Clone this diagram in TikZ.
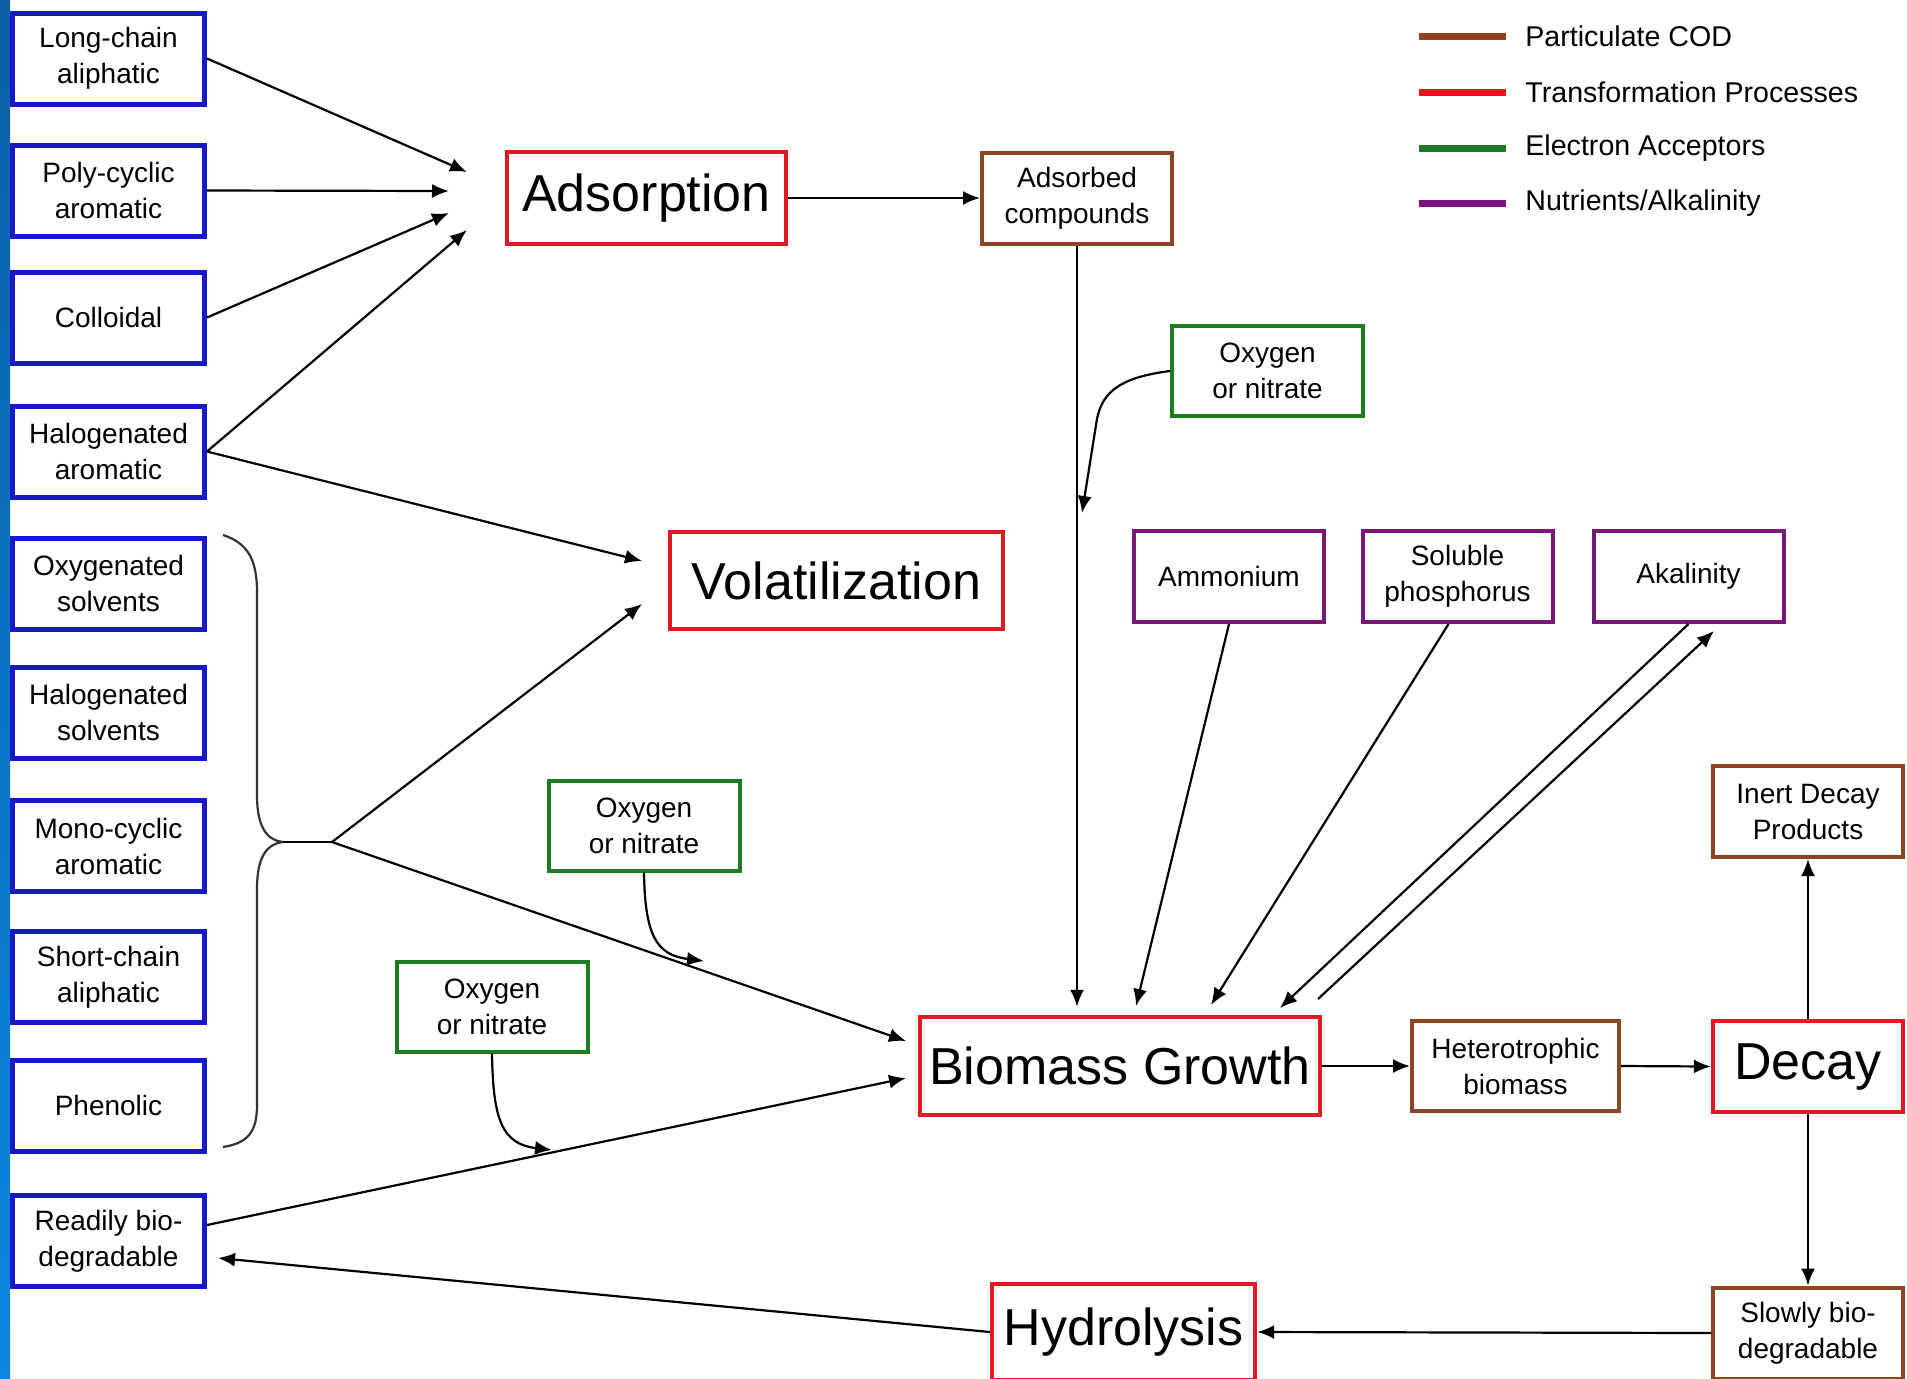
\documentclass[tikz,border=0pt]{standalone}
\usepackage{fontspec}
\setmainfont{Liberation Sans}
\usetikzlibrary{arrows.meta,calc}
\definecolor{bxblue}{RGB}{24,24,200}
\definecolor{bxred}{RGB}{225,25,35}
\definecolor{bxbrown}{RGB}{140,70,35}
\definecolor{bxgreen}{RGB}{30,125,35}
\definecolor{bxpurple}{RGB}{120,25,120}
\definecolor{lgbrown}{RGB}{150,65,25}
\definecolor{lgred}{RGB}{230,20,20}
\definecolor{lggreen}{RGB}{25,120,35}
\definecolor{lgpurple}{RGB}{125,15,125}
\definecolor{bartop}{RGB}{10,95,165}
\definecolor{barbot}{RGB}{10,135,225}
\begin{document}
\begin{tikzpicture}[x=0.5pt,y=-0.5pt,
  base/.style={rectangle,fill=white,align=center,inner sep=0pt,font=\fontsize{14}{18}\selectfont},
  srcbox/.style={base,draw=bxblue,line width=2.5pt,minimum width=96pt,minimum height=45.5pt},
  procbox/.style={base,draw=bxred,line width=2.2pt,font=\fontsize{26}{30}\selectfont},
  codbox/.style={base,draw=bxbrown,line width=2pt,minimum width=95pt,minimum height=45.5pt},
  eabox/.style={base,draw=bxgreen,line width=2pt,minimum width=95.5pt,minimum height=45pt},
  nutbox/.style={base,draw=bxpurple,line width=2pt,minimum width=95pt,minimum height=45.5pt},
  conn/.style={line width=1.1pt,draw=black},
  arr/.style={conn,-{Latex[length=8.5pt,width=7pt]}},
  lgline/.style={line width=3.5pt},
  lgtext/.style={anchor=west,inner sep=0pt,font=\fontsize{14.3}{18}\selectfont},
]
\useasboundingbox (0,0) rectangle (1907,1378);
\fill[white] (0,0) rectangle (1907,1378);
\shade[top color=bartop,bottom color=barbot] (0,0) rectangle (10,1378);

% legend
\draw[lgline,lgbrown] (1419,36) -- (1506,36);
\node[lgtext] (lg1) at (1525,36) {Particulate COD};
\draw[lgline,lgred] (1419,92) -- (1506,92);
\node[lgtext] (lg2) at (1525,92) {Transformation Processes};
\draw[lgline,lggreen] (1419,148) -- (1506,148);
\node[lgtext] (lg3) at (1525,148) {Electron Acceptors};
\draw[lgline,lgpurple] (1419,203) -- (1506,203);
\node[lgtext] (lg4) at (1525,203) {Nutrients/Alkalinity};

% source boxes
\node[srcbox] (LC)  at (108.5,58.5)  {Long-chain\\aliphatic};
\node[srcbox] (PC)  at (108.5,190.5) {Poly-cyclic\\aromatic};
\node[srcbox] (Col) at (108.5,317.5) {Colloidal};
\node[srcbox] (HA)  at (108.5,451.5) {Halogenated\\aromatic};
\node[srcbox] (OS)  at (108.5,583.5) {Oxygenated\\solvents};
\node[srcbox] (HS)  at (108.5,712.5) {Halogenated\\solvents};
\node[srcbox] (MC)  at (108.5,846)   {Mono-cyclic\\aromatic};
\node[srcbox] (SC)  at (108.5,977)   {Short-chain\\aliphatic};
\node[srcbox] (Ph)  at (108.5,1105.5){Phenolic};
\node[srcbox] (RB)  at (108.5,1241)  {Readily bio-\\degradable};

% processes
\node[procbox,minimum width=139.5pt,minimum height=46pt] (Ads) at (646.5,198) {Adsorption};
\node[procbox,minimum width=166.5pt,minimum height=48.5pt] (Vol) at (836.5,580.5) {Volatilization};
\node[procbox,minimum width=200pt,minimum height=49pt] (BG) at (1120,1066) {Biomass Growth};
\node[procbox,minimum width=95pt,minimum height=45.5pt] (Dec) at (1808,1066.5) {Decay};
\node[procbox,minimum width=131.5pt,minimum height=48pt] (HY) at (1123.5,1332) {Hydrolysis};

% particulate COD
\node[codbox] (AC)  at (1077,198)    {Adsorbed\\compounds};
\node[codbox,minimum width=103.5pt,minimum height=45pt] (Het) at (1515.5,1066) {Heterotrophic\\biomass};
\node[codbox] (Ine) at (1808,811.5)  {Inert Decay\\Products};
\node[codbox] (SB)  at (1808,1333)   {Slowly bio-\\degradable};

% electron acceptors
\node[eabox] (OT) at (1267.5,371)  {Oxygen\\or nitrate};
\node[eabox] (OM) at (644,825.5)   {Oxygen\\or nitrate};
\node[eabox] (OL) at (492,1006.5)  {Oxygen\\or nitrate};

% nutrients
\node[nutbox] (Amm) at (1229,576.5)   {Ammonium};
\node[nutbox] (Sol) at (1457.5,576.5) {Soluble\\phosphorus};
\node[nutbox] (Alk) at (1688.5,576.5) {Akalinity};

% free ends
\coordinate (a1) at (467,172);
\coordinate (a2) at (449,191);
\coordinate (a3) at (449,213);
\coordinate (a4) at (467,230);
\coordinate (v1) at (642,561);
\coordinate (v2) at (642,604);
\coordinate (tip) at (283,842);
\coordinate (J) at (332,842);
\coordinate (jb) at (906,1041);
\coordinate (rbs) at (207,1225);
\coordinate (rbe) at (906,1078);
\coordinate (hye) at (218,1258);
\coordinate (ote) at (1082,513);
\coordinate (ome) at (704,961);
\coordinate (ole) at (552,1150);
\coordinate (ame) at (1136,1006);
\coordinate (spe) at (1211,1005);
\coordinate (ake) at (1280,1008);
\coordinate (aks) at (1318,999);
\coordinate (akr) at (1714,631);

% brace
\draw[conn,draw=black!80] (223,535) .. controls (248,543) and (257,560) .. (257,592)
  -- (257,795) .. controls (257,826) and (266,840) .. (tip)
  .. controls (266,844) and (257,858) .. (257,889)
  -- (257,1105) .. controls (257,1132) and (248,1143) .. (223,1147);
\draw[conn] (tip) -- (J);

% connectors
\draw[arr] (LC.east) -- (a1);
\draw[arr] (PC.east) -- (a2);
\draw[arr] (Col.east) -- (a3);
\draw[arr] (HA.east) -- (a4);
\draw[arr] (HA.east) -- (v1);
\draw[arr] (J) -- (v2);
\draw[arr] (J) -- (jb);
\draw[arr] (rbs) -- (rbe);
\draw[arr] (HY.west) -- (hye);
\draw[arr] (SB.west) -- (HY.east);
\draw[arr] (Dec.south) -- (SB.north);
\draw[arr] (Dec.north) -- (Ine.south);
\draw[arr] (Het.east) -- (Dec.west);
\draw[arr] (BG.east) -- (Het.west);
\draw[arr] (Ads.east) -- (AC.west);
\draw[arr] (AC.south) -- ($(AC.south |- BG.north)+(0,-8)$);
\draw[arr] (OT.west) .. controls (1115,378) and (1100,395) .. (1096,425) -- (ote);
\draw[arr] (OM.south) .. controls (645,935) and (656,955) .. (ome);
\draw[arr] (OL.south) .. controls (493,1120) and (502,1144) .. (ole);
\draw[arr] (Amm.south) -- (ame);
\draw[arr] ($(Sol.south)+(-9,0)$) -- (spe);
\draw[arr] (Alk.south) -- (ake);
\draw[arr] (aks) -- (akr);
\end{tikzpicture}
\end{document}
